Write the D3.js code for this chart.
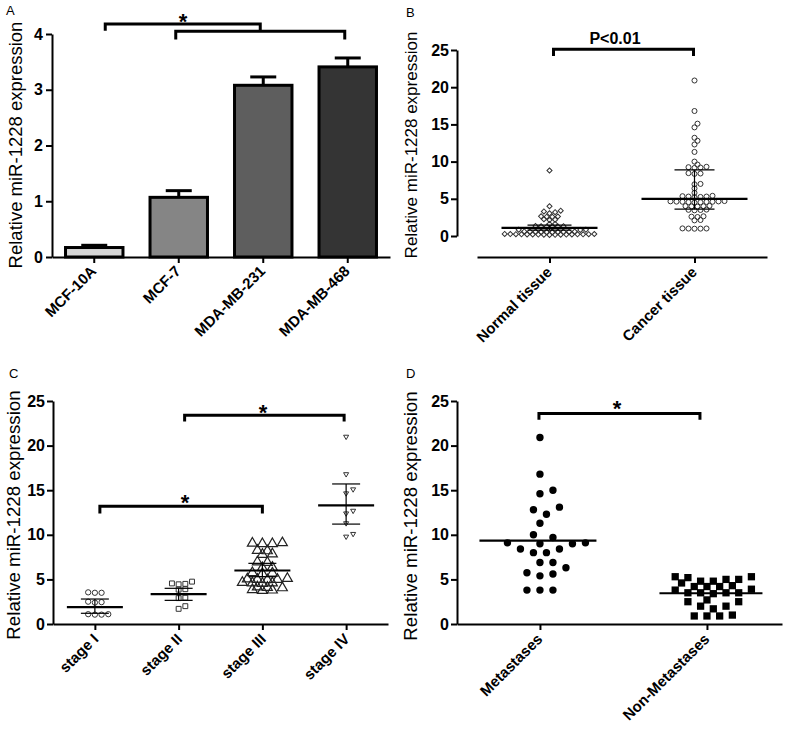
<!DOCTYPE html>
<html><head><meta charset="utf-8">
<script src="https://cdn.jsdelivr.net/npm/d3@7"></script>
<style>body{margin:0;background:#fff;}</style>
</head><body><svg id="c" width="796" height="735"></svg>
<script>
// ---------------- DATA ----------------
// Panel A
const cellLines = ["MCF-10A", "MCF-7", "MDA-MB-231", "MDA-MB-468"];
const cellMeans = [0.17, 1.07, 3.08, 3.41];
const cellErrors = [0.04, 0.12, 0.15, 0.16];
const aTicks = [0, 1, 2, 3, 4];
// Panel B
const tissueGroups = ["Normal tissue", "Cancer tissue"];
const normalTissue = [0.18,0.22,0.25,0.2,0.15,0.28,0.21,0.19,0.24,0.17,0.23,0.26,0.2,0.16,0.22,0.27,0.19,
  0.55,0.58,0.52,0.6,0.56,0.53,0.59,0.57,0.54,0.61,
  0.85,0.9,0.82,0.88,0.86,0.92,0.84,0.89,
  1.25,1.3,1.28,1.35,1.22,1.32,
  1.6,1.62, 2.15,2.2,2.25, 2.6,2.65,2.58,2.62, 3.05,3.2,3.3,3.4, 4.0, 8.8];
const cancerTissue = [20.9,16.8,15.1,14.6,13.2,12.8,12.3,11.3,10.0,
  9.6,9.3,9.2,9.25,9.15, 8.4,8.35,8.45, 7.0,6.95, 6.4,5.8,
  5.35,5.3,5.25,5.4,5.3,5.2,
  4.6,4.65,4.55,4.6,4.7,4.5,4.62,4.58,4.66,4.54,
  4.0,4.05,3.95,4.02,3.98, 3.5,3.55,3.45,3.52, 2.6,2.65,2.55, 2.1,2.15,
  1.0,1.02,0.98,1.01,0.99];
const tissueCenter = [1.1, 5.0];
const tissueUpper = [1.45, 8.9];
const tissueLower = [0.8, 3.6];
const yTicks25 = [0, 5, 10, 15, 20, 25];
// Panel C
const stages = ["stage I", "stage II", "stage III", "stage IV"];
const stageI = [3.5,3.55,3.5, 2.45,2.4,2.5, 1.05,1.1,1.05,1.1];
const stageII = [4.5,4.45,4.55,4.75, 3.85,3.9, 2.9,2.95, 2.0,1.7];
const stageIII = [9.1,9.0,9.05,9.0, 8.2,8.25, 7.8,7.85, 6.9,6.95, 6.3,6.35, 5.7,5.75,5.65,
  5.0,5.05,4.95,5.0,5.1, 4.6,4.55,4.65,4.6, 4.1,4.15,4.05, 3.8,3.75,3.85];
const stageIV = [21.0,16.8,15.1,14.65,12.7,12.4,11.3,10.1,9.8];
const stageMean = [1.9, 3.35, 6.0, 13.3];
const stageUpper = [2.8, 4.0, 6.8, 15.7];
const stageLower = [1.2, 2.65, 5.3, 11.2];
// Panel D
const metGroups = ["Metastases", "Non-Metastases"];
const metastases = [20.9,16.8,15.0,14.6,13.1,12.8,12.3,11.3,10.0,9.7,
  9.1,9.0,9.1,9.0, 8.4,8.0,8.0,8.4, 6.9,6.9, 6.3, 5.75,5.6,5.4, 3.8,3.8,3.8];
const nonMetastases = [5.0,4.8,5.3,5.3,4.8,5.0,5.2, 4.6, 4.2,4.2,4.3,4.2,
  3.9, 3.5,3.5,3.4,3.5,3.5,3.8, 2.7,2.5,2.5, 2.0,1.7,2.0, 0.9,0.9,0.9,1.0];
const metMedian = [9.35, 3.45];

// ---------------- HELPERS ----------------
const FONT = "Arial, 'Liberation Sans', sans-serif";
const svg = d3.select("#c");

function styleAxis(g, fs) {
  g.attr("font-family", FONT).attr("font-size", fs);
  g.select(".domain").attr("stroke", "#000").attr("stroke-width", 2);
  g.selectAll(".tick line").attr("stroke", "#000").attr("stroke-width", 2);
  g.selectAll(".tick text").attr("fill", "#000").attr("font-weight", "bold");
}
function rotateLabels(g, dx, dy) {
  g.selectAll(".tick text").attr("x", 0).attr("y", 0).attr("dy", 0)
    .attr("text-anchor", "end").attr("transform", `translate(${dx},${dy}) rotate(-45)`);
}
function yTitle(x, y, fs) {
  svg.append("text").attr("transform", `translate(${x},${y}) rotate(-90)`)
    .attr("text-anchor", "middle").attr("font-family", FONT).attr("font-size", fs)
    .attr("fill", "#000").text("Relative miR-1228 expression");
}
function letter(x, y, t) {
  svg.append("text").attr("x", x).attr("y", y).attr("font-family", FONT)
    .attr("font-size", 13).attr("fill", "#000").text(t);
}
function bracket(x1, x2, yLine, yEnd) {
  svg.append("path").attr("d", `M${x1},${yEnd}V${yLine}H${x2}V${yEnd}`)
    .attr("fill", "none").attr("stroke", "#000").attr("stroke-width", 3);
}
function star(x, yc) {
  svg.append("text").attr("x", x).attr("y", yc + 12.5).attr("text-anchor", "middle")
    .attr("font-family", FONT).attr("font-weight", "bold").attr("font-size", 22).text("*");
}
// deterministic beeswarm: offsets on a half-spacing grid, nearest to centre first
function swarm(values, y, s, d) {
  const order = values.map((v, i) => i).sort((a, b) => values[a] - values[b]);
  const placed = [], out = [];
  order.forEach(i => {
    const py = y(values[i]);
    for (let k = 0; k < 400; k++) {
      const off = (k === 0 ? 0 : (k % 2 === 1 ? 1 : -1) * Math.ceil(k / 2)) * s / 2;
      if (placed.every(p => Math.hypot(p.x - off, p.y - py) >= d)) {
        placed.push({x: off, y: py}); out.push({dx: off, v: values[i]}); break;
      }
    }
  });
  return out;
}
function drawPoints(data, cx, y, s, d, sym, size, opts) {
  const pts = swarm(data, y, s, d);
  svg.append("g").selectAll("path").data(pts).join("path")
    .attr("d", d3.symbol().type(sym).size(size)())
    .attr("transform", p => `translate(${cx + p.dx},${y(p.v)}) rotate(${opts.rot || 0})`)
    .attr("fill", opts.fill).attr("stroke", opts.stroke).attr("stroke-width", opts.sw);
}
function hline(cx, yv, w, sw) {
  svg.append("line").attr("x1", cx - w / 2).attr("x2", cx + w / 2)
    .attr("y1", yv).attr("y2", yv).attr("stroke", "#000").attr("stroke-width", sw);
}
function summary(cx, y, c, up, lo, wMain, wErr) {
  svg.append("line").attr("x1", cx).attr("x2", cx).attr("y1", y(up)).attr("y2", y(lo))
    .attr("stroke", "#000").attr("stroke-width", 1.2);
  hline(cx, y(up), wErr, 1.2);
  hline(cx, y(lo), wErr, 1.2);
  hline(cx, y(c), wMain, 2.2);
}

// ---------------- PANEL A ----------------
{
  const y = d3.scaleLinear().domain([0, 4]).range([257, 34]);
  const x = d3.scaleBand().domain(cellLines).range([52, 390]).paddingInner(0.32).paddingOuter(0.16);
  const fills = ["#d6d6d6", "#858585", "#5e5e5e", "#343434"];
  const gb = svg.append("g");
  cellLines.forEach((c, i) => {
    const cx = x(c) + x.bandwidth() / 2;
    gb.append("line").attr("x1", cx).attr("x2", cx).attr("y1", y(cellMeans[i])).attr("y2", y(cellMeans[i] + cellErrors[i]))
      .attr("stroke", "#000").attr("stroke-width", 3);
    gb.append("line").attr("x1", cx - 13).attr("x2", cx + 13).attr("y1", y(cellMeans[i] + cellErrors[i])).attr("y2", y(cellMeans[i] + cellErrors[i]))
      .attr("stroke", "#000").attr("stroke-width", 3);
    gb.append("rect").attr("x", x(c)).attr("width", x.bandwidth()).attr("y", y(cellMeans[i]))
      .attr("height", y(0) - y(cellMeans[i])).attr("fill", fills[i]).attr("stroke", "#000").attr("stroke-width", 3);
  });
  const gy = svg.append("g").attr("transform", "translate(52,0)")
    .call(d3.axisLeft(y).tickValues(aTicks).tickFormat(d3.format("d")).tickSize(6).tickSizeOuter(0).tickPadding(3));
  styleAxis(gy, 16);
  const gx = svg.append("g").attr("transform", "translate(0,257)")
    .call(d3.axisBottom(x).tickSize(6).tickSizeOuter(0));
  styleAxis(gx, 15); rotateLabels(gx, 3, 15);
  yTitle(22, 145, 18.5);
  letter(6, 15, "A");
  const xc = c => x(c) + x.bandwidth() / 2;
  svg.append("path").attr("d", `M${xc(cellLines[0]) + 11},${y(4.06)}V${y(4.18)}H${xc(cellLines[2]) - 3}V${y(4.05)}`)
    .attr("fill", "none").attr("stroke", "#000").attr("stroke-width", 3);
  bracket(xc(cellLines[1]) - 3, xc(cellLines[3]) - 3, y(4.05), y(3.9));
  star(183, 16);
}

// ---------------- PANEL B ----------------
{
  const y = d3.scaleLinear().domain([0, 25]).range([236, 50]);
  const x = d3.scalePoint().domain(tissueGroups).range([477, 767]).padding(0.5);
  const gy = svg.append("g").attr("transform", "translate(457,0)")
    .call(d3.axisLeft(y).tickValues(yTicks25).tickSize(6).tickSizeOuter(0).tickPadding(2));
  styleAxis(gy, 16);
  const gx = svg.append("g").attr("transform", "translate(0,257)")
    .call(d3.axisBottom(x).tickSize(6).tickSizeOuter(0));
  styleAxis(gx, 15); rotateLabels(gx, 3, 16);
  drawPoints(normalTissue, x(tissueGroups[0]), y, 5.6, 3.7, d3.symbolSquare, 13, {rot: 45, fill: "none", stroke: "#333", sw: 1});
  drawPoints(cancerTissue, x(tissueGroups[1]), y, 6, 4, d3.symbolCircle, 20, {fill: "none", stroke: "#333", sw: 1});
  summary(x(tissueGroups[0]), y, tissueCenter[0], tissueUpper[0], tissueLower[0], 96, 44);
  summary(x(tissueGroups[1]), y, tissueCenter[1], tissueUpper[1], tissueLower[1], 106, 40);
  yTitle(417, 145, 17);
  letter(406, 17, "B");
  bracket(x(tissueGroups[0]) + 4, x(tissueGroups[1]) - 1, y(25.1), y(24.2));
  svg.append("text").attr("x", 615).attr("y", 44).attr("text-anchor", "middle").attr("font-family", FONT)
    .attr("font-weight", "bold").attr("font-size", 16).text("P<0.01");
}

// ---------------- PANEL C ----------------
{
  const y = d3.scaleLinear().domain([0, 25]).range([624, 401]);
  const x = d3.scalePoint().domain(stages).range([53, 388]).padding(0.5);
  const gy = svg.append("g").attr("transform", "translate(53,0)")
    .call(d3.axisLeft(y).tickValues(yTicks25).tickSize(6).tickSizeOuter(0).tickPadding(2));
  styleAxis(gy, 16);
  const gx = svg.append("g").attr("transform", "translate(0,624)")
    .call(d3.axisBottom(x).tickSize(6).tickSizeOuter(0));
  styleAxis(gx, 15); rotateLabels(gx, 4, 16);
  drawPoints(stageI, x(stages[0]), y, 6.7, 5, d3.symbolCircle, 22, {fill: "none", stroke: "#333", sw: 1});
  drawPoints(stageII, x(stages[1]), y, 6.7, 5, d3.symbolSquare, 24, {fill: "none", stroke: "#333", sw: 1});
  drawPoints(stageIII, x(stages[2]), y, 10, 5.5, d3.symbolTriangle, 43, {fill: "none", stroke: "#222", sw: 1.2});
  drawPoints(stageIV, x(stages[3]), y, 7, 6, d3.symbolTriangle, 11, {rot: 180, fill: "none", stroke: "#333", sw: 1});
  stages.forEach((s, i) => summary(x(s), y, stageMean[i], stageUpper[i], stageLower[i], 56, 28));
  yTitle(20, 515, 18.7);
  letter(9, 378, "C");
  bracket(x(stages[1]) + 6, x(stages[3]) - 2, y(23.4), y(22.7));
  bracket(x(stages[0]) + 5, x(stages[2]), y(13.2), y(12.4));
  star(263, 407);
  star(185, 497);
}

// ---------------- PANEL D ----------------
{
  const y = d3.scaleLinear().domain([0, 25]).range([624, 401]);
  const x = d3.scalePoint().domain(metGroups).range([457, 782]).padding(0.473).align(0.525);
  const gy = svg.append("g").attr("transform", "translate(457,0)")
    .call(d3.axisLeft(y).tickValues(yTicks25).tickSize(6).tickSizeOuter(0).tickPadding(2));
  styleAxis(gy, 16);
  const gx = svg.append("g").attr("transform", "translate(0,624)")
    .call(d3.axisBottom(x).tickSize(6).tickSizeOuter(0));
  styleAxis(gx, 15); rotateLabels(gx, 3, 16);
  drawPoints(metastases, x(metGroups[0]), y, 13, 10, d3.symbolCircle, 43, {fill: "#000", stroke: "none", sw: 0});
  drawPoints(nonMetastases, x(metGroups[1]), y, 12.7, 8, d3.symbolSquare, 53, {fill: "#000", stroke: "none", sw: 0});
  hline(x(metGroups[0]) - 2, y(metMedian[0]), 117, 2.2);
  hline(x(metGroups[1]) + 4, y(metMedian[1]), 103, 2.2);
  yTitle(417, 516, 18.7);
  letter(406, 378, "D");
  bracket(x(metGroups[0]) - 1, x(metGroups[1]) - 7, y(23.6), y(22.9));
  star(617, 403);
}
</script>
</body></html>
